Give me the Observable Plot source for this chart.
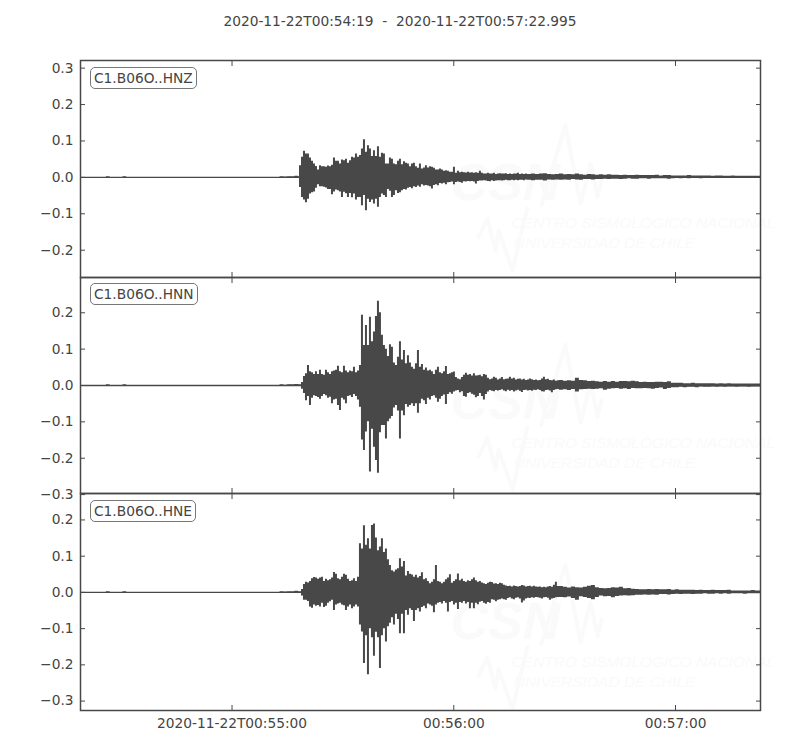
<!DOCTYPE html>
<html><head><meta charset="utf-8">
<script src="https://cdn.jsdelivr.net/npm/d3@7"></script>
<script src="https://cdn.jsdelivr.net/npm/@observablehq/plot@0.6"></script>
<style>
body{margin:0;background:#fff;font-family:"DejaVu Sans",sans-serif;color:#444}
#fig{position:relative;width:800px;height:750px;overflow:hidden}
#fig>div,#fig>svg{position:absolute}
.lab{box-sizing:border-box;height:22px;line-height:20px;padding:0 3px;border:1px solid #777;border-radius:5px;background:#fff;font-size:13.75px;white-space:nowrap}
#title{left:0;top:13px;width:800px;text-align:center;font-size:13.75px;white-space:pre}
</style></head><body><div id="fig"></div>
<script>
// Waveform envelopes, in thousandths of the y unit. Active part, then the coda.
const hnzUpper=[32,55,72,64,64,53,44,37,30,20,
32,29,29,28,31,29,33,53,44,44,
37,48,46,50,39,46,55,53,64,55,
60,78,103,69,87,78,57,73,57,84,
55,66,64,37,37,53,50,37,35,44,
50,35,43,39,37,29,37,39,29,25,
37,23,26,32,26,29,28,25,20,20,
23,20,17,18,17,14,14,28,11,17,
13,14,13,12,14,12,13,11,13,11,
17,11,9,9,11,9,9,11,8,9,
10,9,9,10,8,9,8,9,9,11,
8,9,8,9,8,8];
const hnzLower=[-28,-55,-62,-70,-60,-46,-42,-40,-30,-20,
-26,-26,-27,-29,-33,-33,-48,-40,-35,-37,
-40,-55,-41,-45,-55,-44,-56,-46,-62,-55,
-55,-78,-50,-92,-60,-69,-62,-73,-60,-82,
-55,-46,-50,-55,-33,-38,-55,-50,-37,-44,
-42,-37,-33,-35,-30,-28,-31,-26,-28,-24,
-27,-20,-24,-22,-24,-26,-32,-22,-20,-23,
-17,-18,-16,-20,-15,-14,-13,-20,-14,-13,
-14,-16,-12,-13,-11,-12,-11,-13,-18,-11,
-10,-10,-9,-10,-11,-12,-9,-11,-10,-9,
-9,-10,-9,-8,-9,-9,-8,-9,-8,-9,
-8,-8,-9,-7,-8,-8];
const hnzCodaUpper=[9,8,9,10,8,7,8,9,7,8,7,9,7,6,8,7,6,7,6,7,6,6,5,6,5,5,6,5,5,5,5,6,4,5,5,4,4,4,4,5,4,4,4,4,4,3,4,4,3,3,4,3,3,3,3,3,3,3];
const hnzCodaLower=[-9,-8,-8,-10,-7,-8,-7,-8,-7,-8,-6,-7,-8,-6,-6,-7,-6,-6,-5,-6,-5,-5,-6,-5,-4,-5,-5,-4,-4,-5,-4,-4,-4,-4,-5,-4,-3,-4,-3,-4,-3,-3,-4,-3,-3,-3,-3,-3,-3,-3,-3,-3,-3,-3,-3,-3,-3,-3];

const hnnUpper=[2,8,25,32,55,38,35,30,38,30,
42,30,28,42,35,30,38,40,42,53,
38,35,53,40,35,40,38,50,35,40,
55,193,110,165,110,188,120,147,190,232,
200,138,110,100,80,112,105,62,55,78,
120,70,96,60,82,62,50,45,60,96,
50,58,42,48,40,42,38,30,42,50,
35,32,38,52,30,32,35,37,22,18,
16,22,28,34,28,30,26,32,26,27,
28,24,30,28,20,16,18,23,20,15,
18,22,16,17,18,23,18,20,15,17,
18,15,17,14,15,18,16,14,15,13,
14,18,23,16,17,14,13,15,12,13];
const hnnLower=[-2,-10,-22,-42,-30,-55,-35,-28,-30,-33,
-38,-30,-25,-28,-35,-32,-50,-40,-38,-55,
-69,-35,-40,-50,-30,-28,-33,-25,-30,-40,
-60,-150,-179,-128,-100,-238,-120,-170,-206,-241,
-130,-110,-110,-147,-100,-92,-85,-62,-55,-70,
-147,-70,-83,-52,-60,-55,-50,-58,-50,-76,
-50,-38,-42,-52,-35,-40,-30,-28,-35,-46,
-38,-30,-26,-52,-25,-20,-24,-18,-15,-14,
-20,-17,-30,-32,-22,-20,-24,-27,-34,-30,
-22,-30,-40,-25,-18,-14,-16,-17,-14,-15,
-14,-12,-15,-17,-13,-16,-14,-18,-15,-13,
-16,-19,-14,-13,-15,-14,-16,-13,-14,-12,
-14,-17,-18,-14,-13,-15,-20,-14,-12,-11];
const hnnCodaUpper=[14,12,13,12,20,14,13,11,12,10,9,11,9,11,9,11,11,10,12,10,8,9,8,8,9,9,8,10,6,6,6,5,5,6,5,5,5,5,5,4,5,4,5,4,4,4,4,4,4,4];
const hnnCodaLower=[-13,-12,-14,-11,-18,-12,-11,-10,-11,-10,-9,-13,-10,-9,-8,-10,-9,-11,-8,-9,-9,-8,-9,-10,-8,-7,-11,-8,-6,-6,-5,-6,-5,-5,-6,-4,-5,-5,-4,-5,-4,-5,-4,-4,-5,-4,-4,-5,-4,-4];

const hneUpper=[2,8,22,28,26,30,38,41,40,36,
40,42,30,36,32,35,40,55,50,38,
35,42,50,47,36,30,32,38,30,42,
134,120,184,130,148,120,185,189,150,115,
125,148,110,120,90,74,60,56,62,65,
93,70,85,45,58,50,48,42,47,40,
44,54,35,38,30,24,28,35,74,30,
28,24,28,35,40,49,25,30,35,51,
32,36,30,28,32,30,35,40,32,28,
30,26,24,22,25,28,27,23,24,22,
25,24,20,18,16,17,15,18,16,15,
16,19,18,15,16,17,15,17,15,14,
15,13,14,13,15,16,14,20,28,16];
const hneLower=[-2,-10,-22,-22,-25,-40,-44,-35,-38,-36,
-40,-30,-42,-38,-30,-26,-22,-50,-35,-32,
-30,-35,-37,-50,-40,-35,-45,-40,-35,-40,
-90,-109,-196,-120,-227,-100,-125,-176,-110,-125,
-210,-120,-100,-137,-95,-85,-70,-90,-60,-75,
-114,-60,-114,-50,-63,-45,-50,-80,-50,-45,
-54,-42,-38,-45,-32,-35,-38,-56,-35,-30,
-28,-32,-25,-30,-54,-28,-25,-35,-30,-47,
-28,-30,-25,-32,-28,-45,-30,-45,-30,-34,
-27,-25,-30,-33,-28,-30,-20,-22,-26,-22,
-20,-18,-20,-22,-17,-15,-18,-20,-16,-15,
-18,-29,-24,-18,-16,-17,-15,-16,-14,-15,
-16,-18,-15,-14,-16,-22,-18,-17,-15,-14];
const hneCodaUpper=[16,14,12,15,13,12,14,17,19,13,11,10,11,13,12,14,10,11,9,8,7,7,8,7,8,7,7,8,6,7,6,6,6,6,5,6,5,5,6,5,5,5,6,4,4,4,4,4,5,4];
const hneCodaLower=[-14,-15,-13,-17,-22,-12,-14,-17,-20,-14,-10,-12,-11,-15,-11,-10,-9,-10,-9,-8,-8,-7,-8,-7,-8,-6,-6,-7,-6,-5,-6,-5,-5,-6,-5,-5,-4,-5,-5,-4,-5,-4,-5,-4,-4,-4,-5,-4,-4,-4];

// Small pre-event noise on the quiet baseline
const preSeconds=[7,8,11.5,12.5,54,55,56,57,58,59];
const preAmplitude=[2,0,2,0,2,1,2,2,3,2];

const channels=["C1.B06O..HNZ","C1.B06O..HNN","C1.B06O..HNE"];
const yDomains=[[-0.275,0.321],[-0.297,0.297],[-0.326,0.273]];
const yTicks=[[0.3,0.2,0.1,0,-0.1,-0.2],[0.2,0.1,0,-0.1,-0.2,-0.3],[0.2,0.1,0,-0.1,-0.2,-0.3]];
const xTickSeconds=[41,101,161];
const xTickLabels=["2020-11-22T00:55:00","00:56:00","00:57:00"];
const duration=183.995, onset=59.25, step=0.541;

// Faint watermark carried in the background of each panel
const watermarkShift=[0,-0.031,-0.066];
const logoA=[[124.7,-0.077],[131.2,0.143],[135.3,-0.071],[138,0.038],[139.9,-0.055],[141,-0.008]];
const logoB=[[107.7,-0.165],[110.1,-0.113],[112.3,-0.2],[113.1,-0.146],[116.9,-0.255],[120.9,-0.085]];

const t0=Date.UTC(2020,10,22,0,54,19);
const at=s=>new Date(t0+s*1000);
function rows(up,lo,cu,cl){
  const r=preSeconds.map((s,i)=>({t:at(s),hi:preAmplitude[i]/1000,lo:-preAmplitude[i]/1000}));
  up.forEach((u,i)=>r.push({t:at(onset+i*step),hi:u/1000,lo:lo[i]/1000}));
  const start=onset+up.length*step;
  cu.forEach((u,i)=>r.push({t:at(start+i*2*step),hi:u/1000,lo:cl[i]/1000}));
  r.push({t:at(duration),hi:0,lo:0});
  return r;
}
const series=[rows(hnzUpper,hnzLower,hnzCodaUpper,hnzCodaLower),rows(hnnUpper,hnnLower,hnnCodaUpper,hnnCodaLower),rows(hneUpper,hneLower,hneCodaUpper,hneCodaLower)];
const tops=[60,277,493], heights=[217,216,217], labelTops=[67,283,500];
const fig=document.getElementById("fig");
const title=document.createElement("div");title.id="title";
title.textContent="2020-11-22T00:54:19  -  2020-11-22T00:57:22.995";fig.appendChild(title);
const wm="#fafafa", ink="#484848";
series.forEach((data,p)=>{
  const shift=watermarkShift[p], last=p===2, pad=6;
  const xt=xTickSeconds.map(at);
  const fmt=d=>xTickLabels[xt.findIndex(v=>+v===+d)];
  const svg=Plot.plot({
    width:800,height:heights[p]+pad+(last?40:pad),
    marginLeft:80,marginRight:40,marginTop:pad,marginBottom:last?40:pad,
    style:{background:"transparent",fontFamily:"DejaVu Sans",fontSize:"13.75px",color:"#444",fontVariant:"normal",overflow:"visible"},
    x:{type:"utc",domain:[at(0),at(duration)]},
    y:{domain:yDomains[p]},
    marks:[
      Plot.text(["CSN"],{x:at(115),y:-0.016+shift,text:d=>d,fontSize:52,fontFamily:"Liberation Sans",fontWeight:"bold",fontStyle:"italic",fill:wm}),
      Plot.text(["CENTRO SISMOLÓGICO NACIONAL"],{x:at(152.3),y:-0.126+shift,text:d=>d,fontSize:15.5,fontFamily:"Liberation Sans",fontStyle:"italic",fill:wm}),
      Plot.text(["UNIVERSIDAD DE CHILE"],{x:at(141.8),y:-0.181+shift,text:d=>d,fontSize:15.5,fontFamily:"Liberation Sans",fontStyle:"italic",fill:wm}),
      Plot.line(logoA,{x:d=>at(d[0]),y:d=>d[1]+shift,stroke:wm,strokeWidth:4}),
      Plot.line(logoB,{x:d=>at(d[0]),y:d=>d[1]+shift,stroke:wm,strokeWidth:4}),
      Plot.ruleY([0],{stroke:ink,strokeWidth:1.4}),
      Plot.areaY(data,{x:"t",y1:"lo",y2:"hi",curve:"step-after",fill:ink}),
      Plot.axisY(yTicks[p],{anchor:"left",tickSize:-5,tickPadding:12,label:null,tickFormat:d3.format(".1f"),stroke:ink}),
      Plot.axisY(yTicks[p],{anchor:"right",tickSize:-5,label:null,fill:"none",stroke:ink}),
      Plot.axisX(xt,{anchor:"top",tickSize:-5,label:null,fill:"none",stroke:ink}),
      Plot.axisX(xt,last?{anchor:"bottom",tickSize:-5,tickPadding:13,label:null,tickFormat:fmt,stroke:ink}:{anchor:"bottom",tickSize:-5,label:null,fill:"none",stroke:ink}),
      Plot.frame({stroke:ink,strokeWidth:1.5})
    ]
  });
  svg.style.left="0px";svg.style.top=(tops[p]-pad)+"px";
  fig.appendChild(svg);
  const lab=document.createElement("div");lab.className="lab";lab.textContent=channels[p];
  lab.style.left="90px";lab.style.top=labelTops[p]+"px";fig.appendChild(lab);
});
</script></body></html>
